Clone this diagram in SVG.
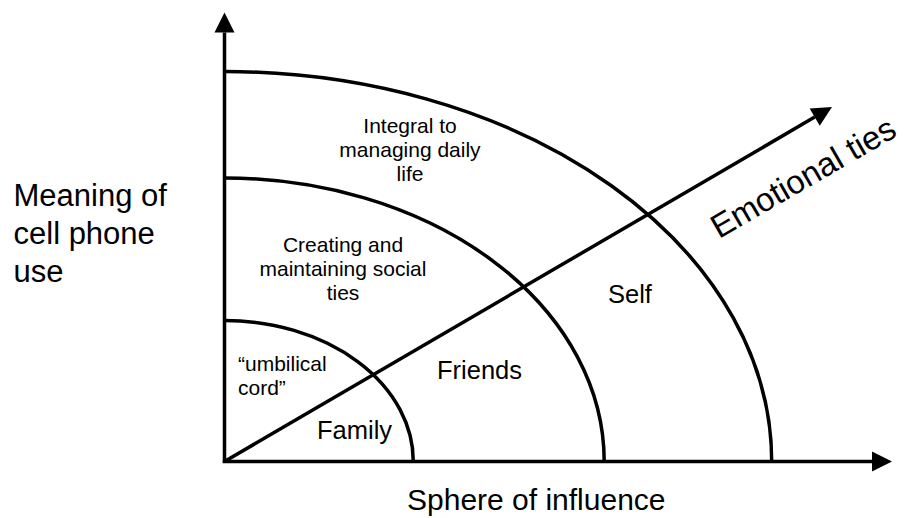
<svg xmlns="http://www.w3.org/2000/svg" width="911" height="518" viewBox="0 0 911 518">
<style>
.ax{fill:none;stroke:#000;stroke-width:3.5}
.arc{fill:none;stroke:#000;stroke-width:3.5}
.t{font-family:"Liberation Sans",Arial,sans-serif;fill:#000}
.big{font-size:31px}
.mid{font-size:25.5px}
.sm{font-size:21px}
</style>
<defs>
<marker id="arr" markerUnits="userSpaceOnUse" markerWidth="21" markerHeight="21" refX="0" refY="10" orient="auto" viewBox="0 0 21 20" overflow="visible">
<path d="M0,0 L20,10 L0,20 Z" fill="#000"/>
</marker>
</defs>
<rect width="911" height="518" fill="#fff"/>
<g id="connectors">
<line class="ax" x1="224.5" y1="463" x2="224.5" y2="32.5" marker-end="url(#arr)"/>
<line class="ax" x1="222.75" y1="461.5" x2="872" y2="461.5" marker-end="url(#arr)"/>
<line class="ax" x1="224.5" y1="461.5" x2="814.7" y2="117.1" stroke-width="3" marker-end="url(#arr)"/>
</g>
<g id="family">
<path class="arc" d="M224.5,320.5 A188.8,141 0 0 1 413.3,461.5"/>
<text class="t sm" x="238" y="371">“umbilical</text>
<text class="t sm" x="238" y="395">cord”</text>
<text class="t mid" x="317" y="439">Family</text>
</g>
<g id="friends">
<path class="arc" d="M224.5,178 A379.7,283.5 0 0 1 604.2,461.5"/>
<text class="t sm" text-anchor="middle" x="343" y="252">Creating and</text>
<text class="t sm" text-anchor="middle" x="343" y="276">maintaining social</text>
<text class="t sm" text-anchor="middle" x="343" y="300">ties</text>
<text class="t mid" x="437" y="379">Friends</text>
</g>
<g id="self">
<path class="arc" d="M224.5,71.5 A547.2,390 0 0 1 771.7,461.5"/>
<text class="t sm" text-anchor="middle" x="410" y="133">Integral to</text>
<text class="t sm" text-anchor="middle" x="410" y="157">managing daily</text>
<text class="t sm" text-anchor="middle" x="410" y="181">life</text>
<text class="t mid" x="608" y="303">Self</text>
</g>
<g id="labels">
<text class="t big" x="13.5" y="206">Meaning of</text>
<text class="t big" x="13.5" y="244">cell phone</text>
<text class="t big" x="13.5" y="282">use</text>
<text class="t" font-size="30" x="407" y="510">Sphere of influence</text>
<text class="t" font-size="33" transform="translate(719,239) rotate(-30)">Emotional ties</text>
</g>
</svg>
